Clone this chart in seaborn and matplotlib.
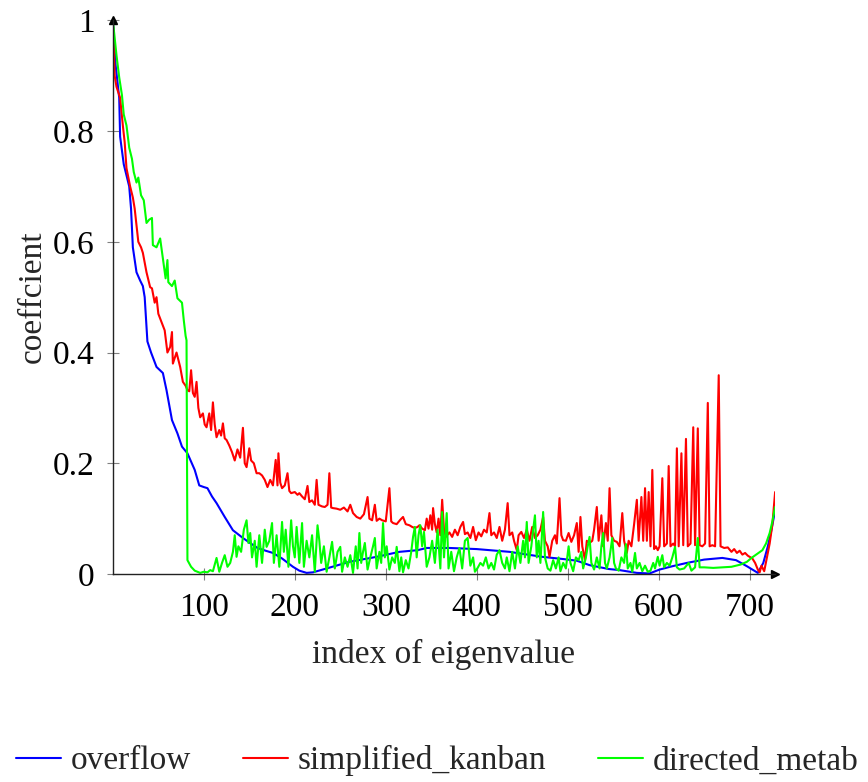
import numpy as np
import pandas as pd
import matplotlib
matplotlib.use("Agg")
import matplotlib.pyplot as plt
import seaborn as sns
from matplotlib.lines import Line2D

# overflow (smooth)
overflow_idx = [0, 3, 5, 7, 8, 12, 15, 18, 20, 22, 26, 30, 33, 35, 38, 42, 48, 55, 59, 65,
                71, 76, 82, 90, 95, 100, 104, 109, 114, 123, 132, 143, 150, 159, 168, 176,
                186, 198, 205, 213, 220, 235, 260, 290, 315, 335, 345, 370, 400, 436, 472,
                495, 510, 524, 545, 557, 576, 590, 601, 615, 631, 650, 670, 685, 697, 709,
                715, 720, 724, 728]
overflow_val = [1.0, 0.92, 0.89, 0.86, 0.79, 0.74, 0.72, 0.70, 0.66, 0.59, 0.545, 0.53, 0.52,
                0.50, 0.42, 0.40, 0.374, 0.363, 0.332, 0.278, 0.254, 0.23, 0.218, 0.188, 0.16,
                0.157, 0.155, 0.14, 0.128, 0.103, 0.079, 0.065, 0.057, 0.047, 0.042, 0.038,
                0.028, 0.013, 0.006, 0.002, 0.003, 0.01, 0.022, 0.031, 0.04, 0.043, 0.047,
                0.047, 0.045, 0.04, 0.031, 0.027, 0.024, 0.016, 0.009, 0.007, 0.002, 0.001,
                0.008, 0.014, 0.02, 0.026, 0.029, 0.025, 0.014, 0.002, 0.02, 0.05, 0.08, 0.115]

# simplified_kanban (noisy, spiky tail)
kanban_idx = [0, 2, 4, 8, 11, 13, 15, 19, 22, 24, 28, 31, 33, 37, 41, 43, 46, 48, 50, 54,
              57, 60, 63, 65, 66, 68, 70, 74, 77, 80, 82, 84, 86, 88, 90, 92, 94, 96, 99, 101,
              103, 106, 108, 110, 112, 114, 117, 119, 121, 123, 125, 128, 131, 134, 137, 140,
              143, 145, 147, 150, 152, 155, 158, 161, 164, 167, 170, 173, 176, 179, 181, 182,
              184, 186, 189, 192, 194, 196, 200, 203, 205, 208, 211, 214, 216, 219, 222, 224,
              226, 230, 233, 236, 238, 240, 242, 246, 250, 254, 258, 261, 264, 268, 272, 276,
              280, 282, 285, 288, 290, 293, 296, 300, 304, 306, 308, 312, 316, 319, 322, 326,
              329, 332, 335, 337, 340, 343, 345, 347, 349, 351, 352, 354, 356, 358, 360, 362,
              364, 366, 370, 373, 376, 379, 382, 385, 387, 390, 393, 396, 399, 402, 405, 408,
              411, 414, 416, 419, 422, 425, 428, 431, 434, 436, 439, 441, 444, 446, 449, 452,
              455, 458, 461, 464, 467, 470, 473, 475, 478, 480, 483, 486, 488, 491, 493, 495,
              498, 501, 504, 507, 510, 512, 514, 516, 519, 521, 524, 527, 529, 532, 534, 537,
              539, 542, 544, 546, 548, 551, 554, 557, 560, 562, 565, 567, 570, 573, 576, 578,
              581, 583, 585, 587, 589, 591, 593, 595, 597, 599, 601, 604, 606, 609, 611, 613,
              616, 618, 620, 622, 625, 627, 630, 632, 635, 638, 640, 643, 645, 648, 651, 654,
              656, 659, 662, 666, 668, 672, 676, 680, 683, 686, 689, 692, 695, 698, 700, 703,
              706, 709, 711, 713, 716, 719, 722, 725, 728]
kanban_val = [1.0, 0.90, 0.88, 0.86, 0.81, 0.78, 0.733, 0.70, 0.68, 0.66, 0.60, 0.59, 0.58,
              0.545, 0.518, 0.516, 0.49, 0.50, 0.47, 0.453, 0.44, 0.40, 0.41, 0.437, 0.38, 0.39,
              0.40, 0.374, 0.347, 0.34, 0.332, 0.33, 0.368, 0.327, 0.32, 0.347, 0.30, 0.283,
              0.29, 0.27, 0.265, 0.29, 0.26, 0.31, 0.27, 0.247, 0.26, 0.25, 0.272, 0.245,
              0.242, 0.232, 0.22, 0.205, 0.225, 0.21, 0.264, 0.2, 0.193, 0.227, 0.205, 0.2,
              0.182, 0.182, 0.178, 0.17, 0.157, 0.17, 0.16, 0.206, 0.16, 0.218, 0.165, 0.155,
              0.16, 0.182, 0.15, 0.146, 0.148, 0.143, 0.146, 0.14, 0.135, 0.159, 0.13, 0.133,
              0.125, 0.17, 0.125, 0.122, 0.121, 0.125, 0.182, 0.12, 0.119, 0.118, 0.116, 0.12,
              0.113, 0.125, 0.11, 0.103, 0.1, 0.108, 0.139, 0.1, 0.097, 0.125, 0.096, 0.1,
              0.097, 0.095, 0.155, 0.095, 0.092, 0.09, 0.098, 0.103, 0.09, 0.088, 0.085, 0.083,
              0.085, 0.088, 0.082, 0.079, 0.1, 0.082, 0.106, 0.08, 0.119, 0.09, 0.075, 0.1,
              0.07, 0.134, 0.08, 0.067, 0.075, 0.067, 0.08, 0.07, 0.085, 0.094, 0.072, 0.075,
              0.065, 0.085, 0.061, 0.075, 0.068, 0.08, 0.075, 0.11, 0.07, 0.075, 0.065, 0.085,
              0.06, 0.08, 0.128, 0.07, 0.075, 0.06, 0.043, 0.07, 0.076, 0.065, 0.08, 0.06,
              0.085, 0.065, 0.07, 0.08, 0.103, 0.06, 0.05, 0.031, 0.06, 0.07, 0.055, 0.137,
              0.07, 0.061, 0.06, 0.074, 0.058, 0.07, 0.092, 0.04, 0.103, 0.05, 0.025, 0.06,
              0.056, 0.06, 0.08, 0.121, 0.06, 0.106, 0.05, 0.092, 0.06, 0.155, 0.07, 0.06,
              0.058, 0.05, 0.11, 0.06, 0.038, 0.06, 0.05, 0.09, 0.134, 0.06, 0.139, 0.06,
              0.155, 0.06, 0.148, 0.05, 0.188, 0.045, 0.05, 0.043, 0.05, 0.173, 0.05, 0.055,
              0.195, 0.05, 0.055, 0.05, 0.227, 0.05, 0.218, 0.052, 0.244, 0.05, 0.055, 0.265,
              0.052, 0.263, 0.052, 0.05, 0.055, 0.309, 0.05, 0.052, 0.05, 0.359, 0.05, 0.047,
              0.048, 0.04, 0.045, 0.038, 0.042, 0.035, 0.038, 0.033, 0.031, 0.028, 0.02, 0.008,
              0.003, 0.015, 0.005, 0.03, 0.055, 0.09, 0.148]

# directed_metab (drops sharply near 82, then noisy floor)
metab_idx = [0, 4, 7, 10, 12, 15, 18, 21, 23, 26, 28, 31, 34, 37, 40, 43, 44, 48, 52, 55,
             58, 60, 61, 65, 68, 71, 76, 78, 80, 81, 82, 86, 90, 96, 100, 104, 107, 110, 114,
             117, 120, 123, 126, 129, 132, 134, 136, 138, 141, 144, 147, 149, 151, 153, 156,
             158, 161, 164, 167, 169, 172, 175, 177, 180, 183, 186, 188, 190, 193, 196, 198,
             200, 202, 205, 208, 210, 213, 216, 219, 222, 225, 227, 229, 232, 235, 238, 241,
             244, 247, 250, 252, 255, 258, 261, 264, 267, 269, 271, 273, 275, 277, 280, 283,
             286, 288, 290, 293, 295, 297, 299, 301, 304, 307, 310, 312, 315, 317, 319, 322,
             325, 328, 330, 332, 334, 336, 338, 340, 342, 345, 348, 351, 354, 357, 360, 362,
             364, 367, 369, 372, 375, 378, 381, 384, 387, 390, 393, 396, 398, 401, 404, 407,
             410, 413, 416, 419, 422, 425, 428, 431, 433, 436, 439, 442, 445, 448, 451, 453,
             455, 457, 460, 462, 464, 466, 468, 470, 473, 475, 478, 481, 484, 487, 490, 492,
             495, 498, 501, 503, 506, 509, 512, 515, 517, 520, 522, 524, 526, 529, 532, 535,
             537, 539, 541, 543, 546, 549, 551, 553, 556, 559, 562, 564, 566, 569, 571, 574,
             576, 579, 582, 585, 588, 591, 594, 596, 599, 601, 604, 606, 609, 612, 615, 618,
             620, 623, 628, 633, 636, 640, 643, 645, 650, 660, 670, 680, 690, 697, 702, 708,
             714, 718, 722, 725, 728]
metab_val = [1.0, 0.937, 0.897, 0.865, 0.83, 0.81, 0.77, 0.75, 0.726, 0.707, 0.716, 0.684,
             0.675, 0.634, 0.64, 0.643, 0.594, 0.59, 0.606, 0.57, 0.534, 0.567, 0.527, 0.52,
             0.53, 0.498, 0.49, 0.458, 0.43, 0.422, 0.025, 0.013, 0.006, 0.002, 0.004, 0.003,
             0.007, 0.005, 0.029, 0.004, 0.02, 0.034, 0.013, 0.02, 0.04, 0.07, 0.031, 0.05,
             0.04, 0.08, 0.097, 0.056, 0.074, 0.03, 0.06, 0.013, 0.07, 0.02, 0.08, 0.049, 0.06,
             0.092, 0.02, 0.07, 0.013, 0.094, 0.04, 0.08, 0.013, 0.097, 0.05, 0.03, 0.085,
             0.02, 0.092, 0.013, 0.06, 0.03, 0.07, 0.004, 0.088, 0.06, 0.02, 0.05, 0.004, 0.03,
             0.058, 0.01, 0.04, 0.049, 0.004, 0.03, 0.013, 0.034, 0.002, 0.05, 0.01, 0.074,
             0.02, 0.04, 0.056, 0.008, 0.03, 0.05, 0.065, 0.01, 0.04, 0.02, 0.092, 0.03, 0.05,
             0.008, 0.03, 0.02, 0.049, 0.005, 0.03, 0.003, 0.025, 0.01, 0.04, 0.067, 0.085,
             0.03, 0.07, 0.088, 0.05, 0.076, 0.013, 0.03, 0.06, 0.02, 0.08, 0.01, 0.112, 0.03,
             0.11, 0.01, 0.04, 0.005, 0.03, 0.047, 0.01, 0.06, 0.065, 0.015, 0.03, 0.004,
             0.011, 0.02, 0.015, 0.03, 0.01, 0.02, 0.008, 0.035, 0.043, 0.02, 0.01, 0.03,
             0.005, 0.04, 0.01, 0.05, 0.02, 0.06, 0.03, 0.094, 0.02, 0.05, 0.08, 0.106, 0.03,
             0.06, 0.02, 0.112, 0.03, 0.01, 0.006, 0.025, 0.01, 0.03, 0.005, 0.02, 0.01, 0.05,
             0.02, 0.005, 0.03, 0.025, 0.04, 0.01, 0.03, 0.05, 0.067, 0.02, 0.008, 0.03, 0.01,
             0.05, 0.074, 0.02, 0.01, 0.03, 0.065, 0.02, 0.01, 0.006, 0.03, 0.02, 0.054, 0.01,
             0.02, 0.004, 0.038, 0.01, 0.02, 0.005, 0.015, 0.004, 0.006, 0.02, 0.01, 0.031,
             0.015, 0.034, 0.012, 0.02, 0.015, 0.03, 0.049, 0.012, 0.008, 0.01, 0.02, 0.006,
             0.012, 0.065, 0.012, 0.012, 0.011, 0.012, 0.013, 0.017, 0.022, 0.029, 0.036,
             0.043, 0.055, 0.074, 0.095, 0.121]

series_names = ["overflow", "simplified_kanban", "directed_metab"]
colors = ["#0000ff", "#ff0000", "#00ff00"]
x_ticks = [100, 200, 300, 400, 500, 600, 700]
y_ticks = [0, 0.2, 0.4, 0.6, 0.8, 1]
y_tick_labels = ["0", "0.2", "0.4", "0.6", "0.8", "1"]

df = pd.concat([
    pd.DataFrame({"idx": overflow_idx, "val": overflow_val, "series": series_names[0]}),
    pd.DataFrame({"idx": kanban_idx, "val": kanban_val, "series": series_names[1]}),
    pd.DataFrame({"idx": metab_idx, "val": metab_val, "series": series_names[2]}),
], ignore_index=True)

sns.set_theme(style="ticks")
plt.rcParams["font.family"] = ["Liberation Serif", "DejaVu Serif"]
fs = 24

fig = plt.figure(figsize=(8.68, 7.82), dpi=100)
ax = fig.add_axes([0.130, 0.266, 0.763, 0.708])

sns.lineplot(data=df, x="idx", y="val", hue="series", hue_order=series_names,
             palette=colors, estimator=None, sort=False, linewidth=1.5, legend=False, ax=ax)

ax.set_xlim(0, 728)
ax.set_ylim(0, 1)
ax.set_xticks(x_ticks)
ax.set_yticks(y_ticks)
ax.set_yticklabels(y_tick_labels)
ax.tick_params(axis="both", direction="inout", length=8, width=0.8, color="#808080",
               labelsize=fs, labelcolor="black", pad=9)
for side in ["top", "right"]:
    ax.spines[side].set_visible(False)
for side in ["left", "bottom"]:
    ax.spines[side].set_color("#222222")
    ax.spines[side].set_linewidth(1.0)

# axis arrows like pgfplots "axis lines = left"
ax.plot(1, 0, ">", color="black", ms=6, transform=ax.transAxes, clip_on=False)
ax.plot(0, 1, "^", color="black", ms=6, transform=ax.transAxes, clip_on=False)

ax.set_xlabel("index of eigenvalue", fontsize=fs, labelpad=12)
ax.set_ylabel("coeffcient", fontsize=fs, labelpad=4)

handles = [Line2D([], [], color=c, lw=1.5) for c in colors]
fig.legend(handles, series_names, loc="center left", bbox_to_anchor=(0.018, 0.027),
           ncol=3, frameon=False, fontsize=fs, handlelength=1.35, handletextpad=0.3,
           columnspacing=1.55, borderaxespad=0, borderpad=0)

fig.savefig("out.png", dpi=100)
